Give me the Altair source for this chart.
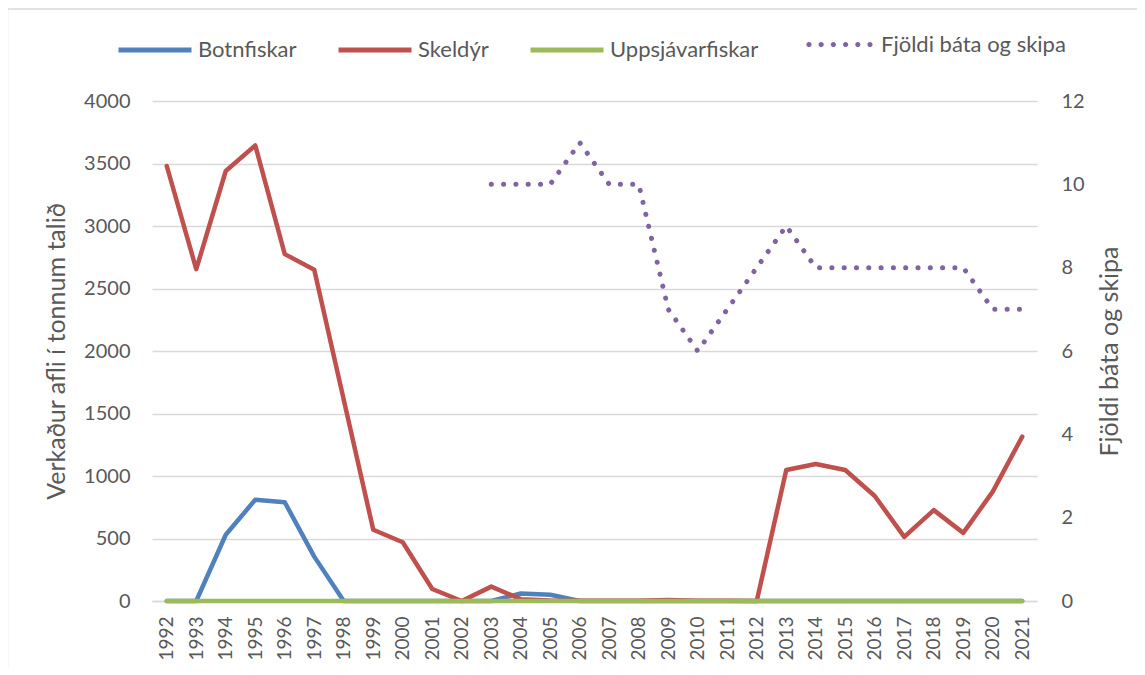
import altair as alt
import pandas as pd

years = [1992, 1993, 1994, 1995, 1996, 1997, 1998, 1999, 2000, 2001,
         2002, 2003, 2004, 2005, 2006, 2007, 2008, 2009, 2010, 2011,
         2012, 2013, 2014, 2015, 2016, 2017, 2018, 2019, 2020, 2021]

botnfiskar = [0, 0, 530, 810, 790, 355, 0, 0, 0, 0,
              0, 0, 60, 50, 0, 0, 0, 0, 0, 0,
              0, 0, 0, 0, 0, 0, 0, 0, 0, 0]

skeldyr = [3480, 2655, 3440, 3645, 2775, 2650, 1610, 570, 470, 96,
           0, 115, 15, 5, 2, 2, 2, 8, 3, 2,
           0, 1048, 1096, 1048, 840, 513, 727, 545, 875, 1315]

uppsjavarfiskar = [0, 0, 0, 0, 0, 0, 0, 0, 0, 0,
                   0, 0, 0, 0, 0, 0, 0, 0, 0, 0,
                   0, 0, 0, 0, 0, 0, 0, 0, 0, 0]

fjoldi = [None, None, None, None, None, None, None, None, None, None,
          None, 10, 10, 10, 11, 10, 10, 7, 6, 7,
          8, 9, 8, 8, 8, 8, 8, 8, 7, 7]

left_names = ["Botnfiskar", "Skeldýr", "Uppsjávarfiskar"]
left_colors = ["#4f81bd", "#c0504d", "#9bbb59"]
right_name = "Fjöldi báta og skipa"
purple = "#8064a2"
text_color = "#595959"
grid_color = "#d9d9d9"
FONT = "Lato"

rows = []
for name, vals in [("Botnfiskar", botnfiskar), ("Skeldýr", skeldyr),
                   ("Uppsjávarfiskar", uppsjavarfiskar), (right_name, fjoldi)]:
    for yr, v in zip(years, vals):
        if v is not None:
            rows.append({"year": str(yr), "series": name, "value": v})
df = pd.DataFrame(rows)

base = alt.Chart(df)

x_scale = alt.Scale(type="point", padding=0.5)
x_axis = alt.Axis(labelAngle=270, labelFontSize=19, labelPadding=15,
                  labelColor=text_color, labelFont=FONT,
                  domain=True, domainColor=grid_color, domainWidth=1.3,
                  ticks=False, grid=False)
x_enc = alt.X("year:O", scale=x_scale, title=None, axis=x_axis)

color_enc = alt.Color("series:N",
                      scale=alt.Scale(domain=left_names, range=left_colors),
                      legend=alt.Legend(orient="none", legendX=-36, legendY=-90,
                                        direction="horizontal", title=None,
                                        symbolType="stroke", symbolSize=5329,
                                        symbolStrokeWidth=5, columnPadding=31,
                                        labelOffset=4))

y_left = alt.Y("value:Q", scale=alt.Scale(domain=[0, 4000], nice=False),
               axis=alt.Axis(values=[0, 500, 1000, 1500, 2000, 2500, 3000, 3500, 4000],
                             format="d",
                             title="Verkaður afli í tonnum talið",
                             titleAngle=270, titleFontSize=25, titleFontWeight="normal",
                             titleColor=text_color, titleFont=FONT, titlePadding=14,
                             labelFontSize=20, labelColor=text_color, labelFont=FONT,
                             labelPadding=22, domain=False, ticks=False,
                             grid=True, gridColor=grid_color, gridWidth=1.3))


def series_line(name):
    return base.transform_filter(alt.datum.series == name).mark_line(
        strokeWidth=4.5, strokeCap="round", strokeJoin="round"
    ).encode(x=x_enc, y=y_left, color=color_enc)


left = alt.layer(series_line("Botnfiskar"), series_line("Skeldýr"),
                 series_line("Uppsjávarfiskar"))

# dotted legend symbol: six filled dots
half = 33.0
r = 2.6 / half
centers = [-0.924, -0.555, -0.185, 0.185, 0.555, 0.924]
dots_path = "".join(
    f"M{c - r:.4f} 0 a{r:.4f} {r:.4f} 0 1 0 {2 * r:.4f} 0 a{r:.4f} {r:.4f} 0 1 0 {-2 * r:.4f} 0 "
    for c in centers)

right = base.transform_filter(alt.datum.series == right_name).mark_line(
    color=purple, strokeWidth=5, strokeCap="round", strokeJoin="round"
).encode(
    x=x_enc,
    y=alt.Y("value:Q", scale=alt.Scale(domain=[0, 12], nice=False),
            axis=alt.Axis(orient="right", values=[0, 2, 4, 6, 8, 10, 12],
                          offset=16,
                          title=right_name, titleAngle=270, titleFontSize=25,
                          titleFontWeight="normal", titleColor=text_color,
                          titleFont=FONT, titlePadding=38,
                          labelFontSize=20, labelColor=text_color, labelFont=FONT,
                          labelPadding=8, domain=False, ticks=False, grid=False)),
    strokeDash=alt.StrokeDash("series:N",
                              scale=alt.Scale(domain=[right_name], range=[[0.1, 12.2]]),
                              legend=alt.Legend(orient="none", legendX=654, legendY=-90,
                                                title=None, symbolType=dots_path,
                                                symbolSize=4356,
                                                symbolFillColor=purple,
                                                symbolStrokeColor=purple,
                                                symbolStrokeWidth=1,
                                                labelOffset=8)),
)

border = alt.Chart(alt.Data(values=[{"a": 1}])).mark_rect(
    fill="transparent", stroke=grid_color, strokeWidth=1.5
).encode(x=alt.value(-144.5), x2=alt.value(1000), y=alt.value(-92), y2=alt.value(580))

chart = alt.layer(
    border,
    alt.layer(left, right).resolve_scale(y="independent"),
).properties(
    width=885, height=500,
    autosize=alt.AutoSizeParams(type="none"),
    padding={"left": 144, "top": 93, "right": 100, "bottom": 66},
).configure_view(stroke=None).configure_legend(
    labelFontSize=22, labelColor=text_color, labelFont=FONT, labelLimit=400
)

chart.save("out.html", embed_options={"renderer": "svg", "actions": False})
